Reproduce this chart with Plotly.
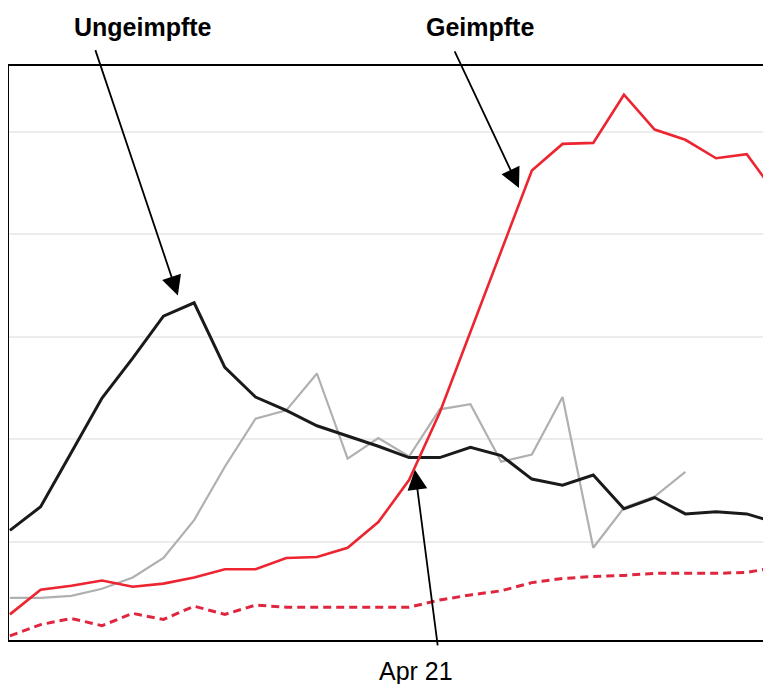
import plotly.graph_objects as go

wochen = list(range(26))

ungeimpfte = [111, 134, 187, 240, 279, 320, 333, 270, 241, 228, 213, 203, 193,
              182, 182, 192, 184, 161, 155, 165, 132, 143, 127, 129, 127, 118]
geimpfte = [29, 53, 57, 62, 56, 59, 65, 73, 73, 84, 85, 94, 119,
            160, 226, 305, 384, 462, 488, 489, 536, 502, 492, 474, 478, 437]
grau = [45, 45, 47, 54, 65, 84, 121, 173, 220, 228, 264, 181, 201,
        183, 229, 234, 178, 185, 241, 94, 133, 144, 168, None, None, None]
geimpfte_gestrichelt = [8, 19, 25, 18, 30, 24, 37, 29, 38, 36, 36, 36, 36,
                        36, 43, 48, 52, 60, 64, 66, 67, 69, 69, 69, 70, 75]

fig = go.Figure()

# Graue Vergleichslinie
fig.add_trace(go.Scatter(x=wochen, y=grau, mode='lines',
                         line=dict(color='#b0b0b0', width=2.2)))
# Gestrichelte rote Linie
fig.add_trace(go.Scatter(x=wochen, y=geimpfte_gestrichelt, mode='lines',
                         line=dict(color='#e0263f', width=3, dash='8px,5px')))
# Ungeimpfte
fig.add_trace(go.Scatter(x=wochen, y=ungeimpfte, mode='lines',
                         line=dict(color='#1a1a1a', width=3)))
# Geimpfte
fig.add_trace(go.Scatter(x=wochen, y=geimpfte, mode='lines',
                         line=dict(color='#ec2530', width=2.6)))

schrift = dict(family='Arial, Liberation Sans, sans-serif', size=25, color='#000')

pfeil = dict(showarrow=True, arrowhead=2, arrowsize=2.2, arrowwidth=1.8,
             arrowcolor='#000', xref='x', yref='y', text='')

fig.add_annotation(x=5.47, y=340, ax=-83, ay=-247, **pfeil)
fig.add_annotation(x=16.58, y=445, ax=-65, ay=-138, **pfeil)
fig.add_annotation(x=13.19, y=170, ax=23, ay=177, **pfeil)

# Plotbereich 770px breit, Positionen relativ dazu
texte = dict(xref='paper', yref='paper', showarrow=False,
             xanchor='center', yanchor='middle', font=schrift)
fig.add_annotation(x=0.1735, y=1.068, text='<b>Ungeimpfte</b>', **texte)
fig.add_annotation(x=0.6115, y=1.068, text='<b>Geimpfte</b>', **texte)
fig.add_annotation(x=0.5285, y=-0.054, text='Apr 21', **texte)

fig.update_xaxes(range=[-0.03, 25.05], showgrid=False, zeroline=False,
                 showticklabels=False, ticks='',
                 showline=True, linecolor='#000', linewidth=1.5, mirror=True)
fig.update_yaxes(range=[4, 564], tickvals=[100, 200, 300, 400, 500],
                 showticklabels=False, ticks='', zeroline=False,
                 showgrid=True, gridcolor='#ececec', gridwidth=2,
                 showline=True, linecolor='#000', linewidth=1.5)

# Seite hat 8px Rand oben/links
fig.update_layout(
    width=771, height=676,
    margin=dict(l=1, r=0, t=58, b=44),
    plot_bgcolor='white', paper_bgcolor='white',
    showlegend=False,
)

fig.write_html("out.html")
